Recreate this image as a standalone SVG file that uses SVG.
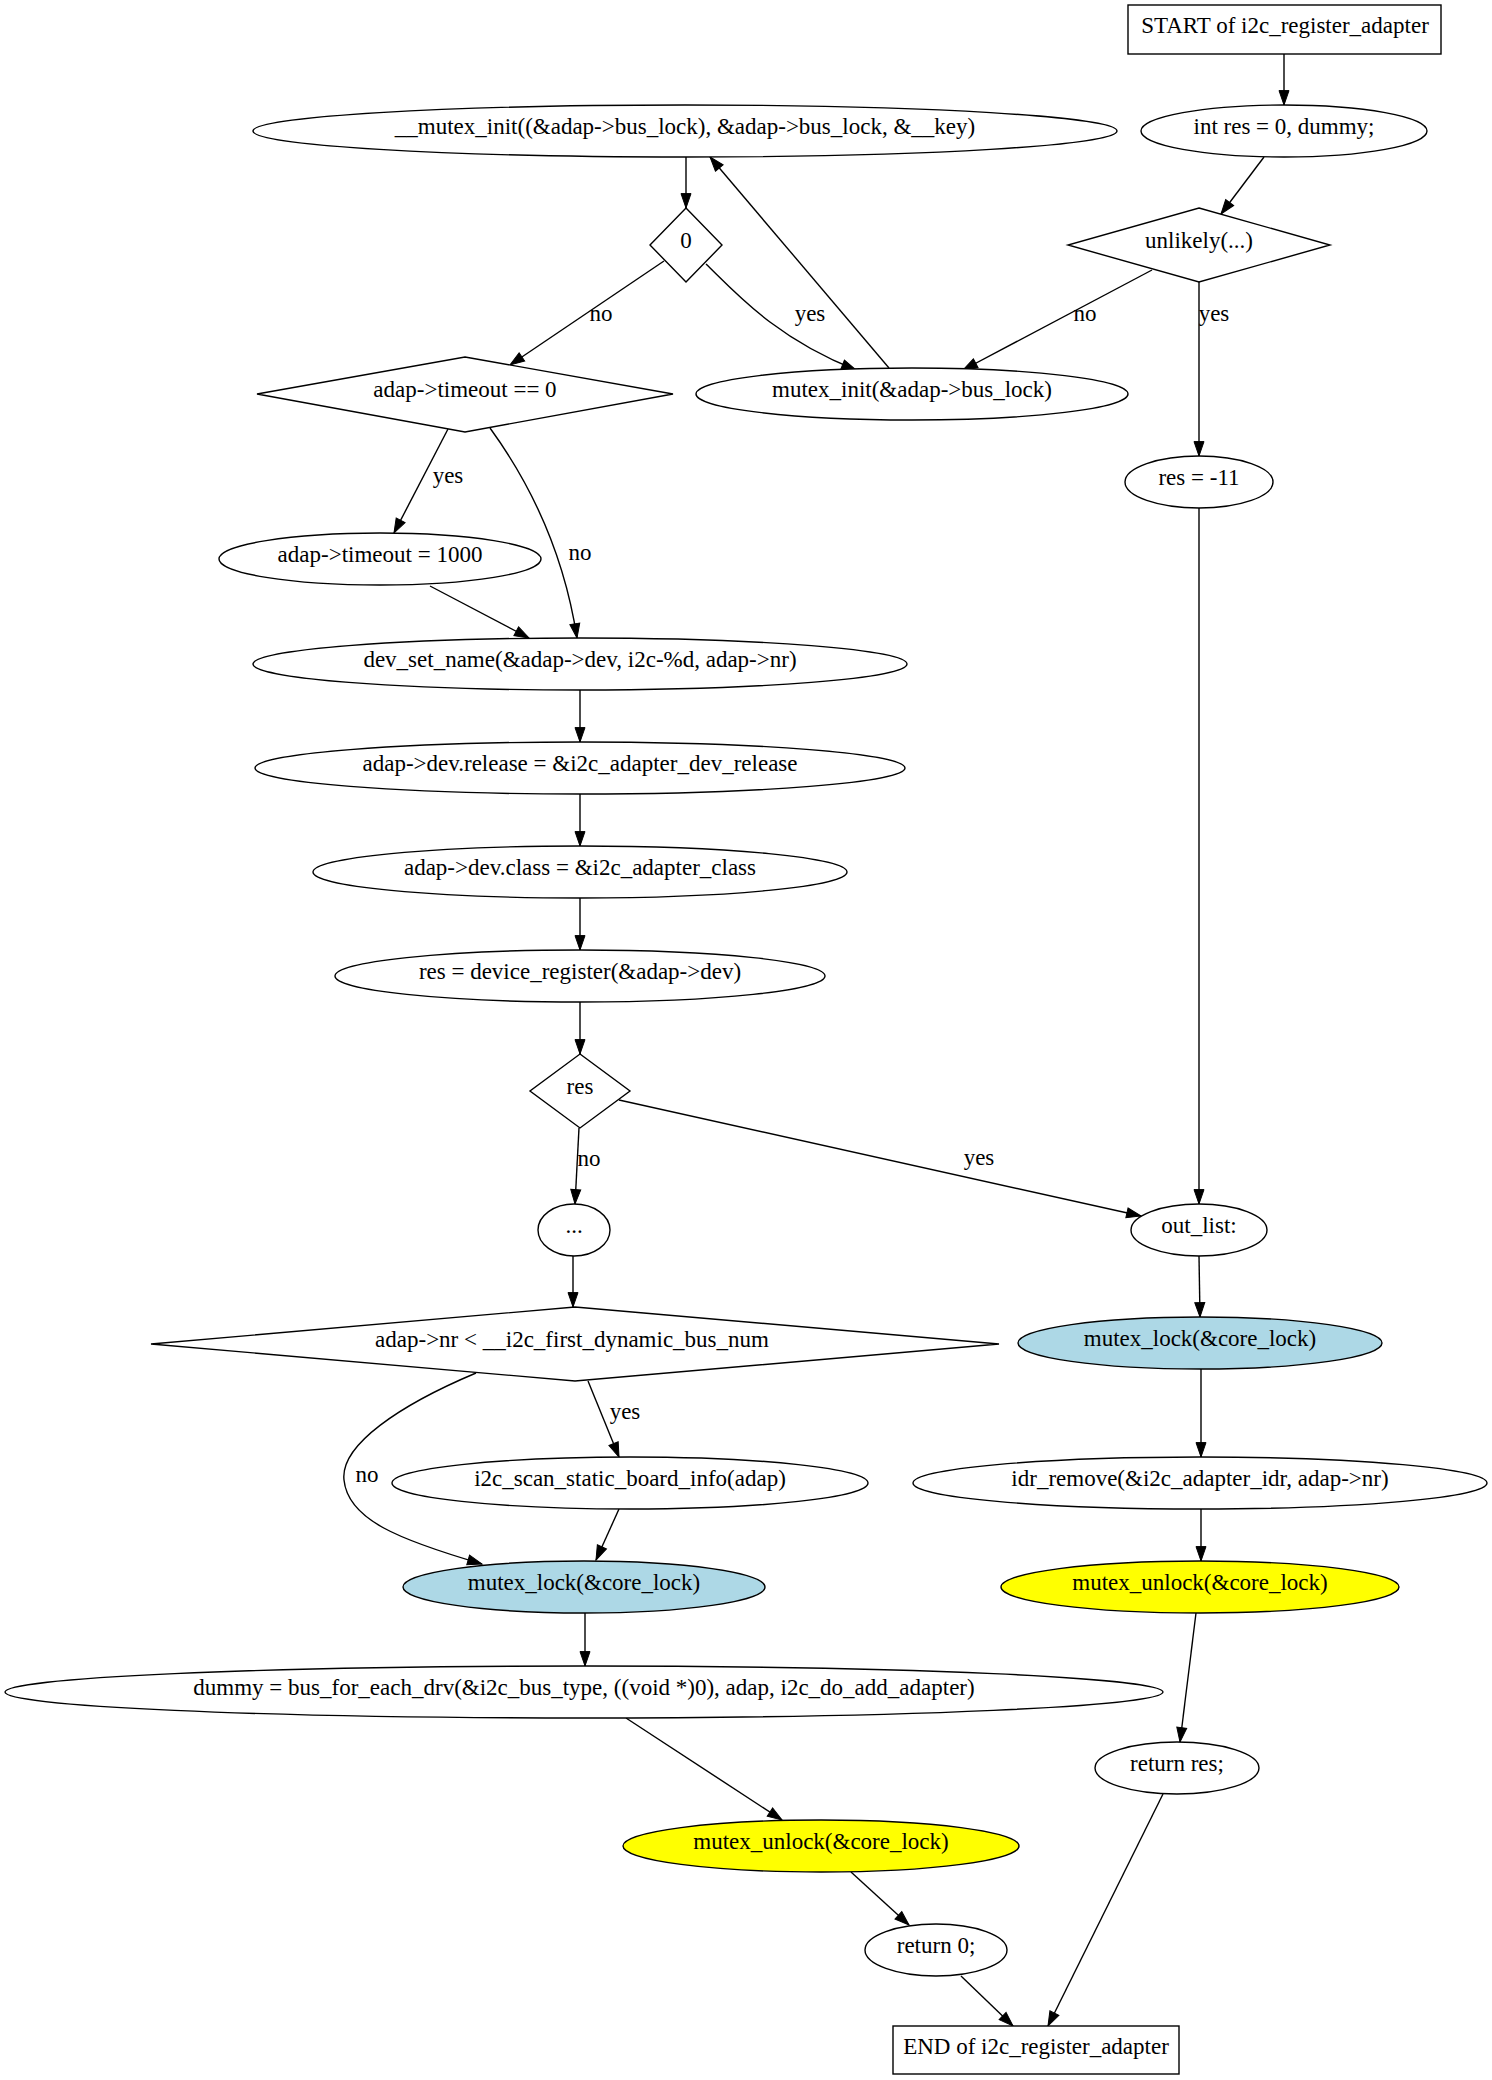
<svg xmlns="http://www.w3.org/2000/svg" width="1492" height="2080" viewBox="0 0 1492 2080">
<defs>
<style>
.s{fill:#fff;stroke:#000;stroke-width:1.4}
.blue{fill:#add8e6;stroke:#000;stroke-width:1.4}
.yel{fill:#ffff00;stroke:#000;stroke-width:1.4}
text{font-family:"Liberation Serif","Times New Roman",serif;font-size:23px;fill:#000;text-anchor:middle}
.e{fill:none;stroke:#000;stroke-width:1.4;marker-end:url(#ah)}
</style>
<marker id="ah" markerWidth="16" markerHeight="12" refX="14.4" refY="5" orient="auto" markerUnits="userSpaceOnUse" overflow="visible">
<path d="M0,0 L14.4,5 L0,10 Z" fill="#000" stroke="#000" stroke-width="1"/>
</marker>
</defs>
<rect x="0" y="0" width="1492" height="2080" fill="#fff"/>

<g id="connectors">
<path class="e" d="M1284,54 L1284,105"/>
<path class="e" d="M1264,157 L1221,214"/>
<path class="e" d="M686,157 L686,208"/>
<path class="e" d="M664,261 L510,365"/>
<text x="601" y="321">no</text>
<path class="e" d="M706,264 C735,292 775,338 856,370"/>
<text x="810" y="321">yes</text>
<path class="e" d="M889,368 L710,157"/>
<path class="e" d="M1152,270 L963,370"/>
<text x="1085" y="321">no</text>
<path class="e" d="M1199,282 L1199,456"/>
<text x="1214" y="321">yes</text>
<path class="e" d="M448,429 L394,533"/>
<text x="448" y="483">yes</text>
<path class="e" d="M490,428 C535,490 565,560 577,638"/>
<text x="580" y="560">no</text>
<path class="e" d="M430,586 L529,638"/>
<path class="e" d="M580,690 L580,742"/>
<path class="e" d="M580,794 L580,846"/>
<path class="e" d="M580,898 L580,950"/>
<path class="e" d="M580,1002 L580,1054"/>
<path class="e" d="M579,1128 L575,1204"/>
<text x="589" y="1166">no</text>
<path class="e" d="M619,1100 L1141,1216"/>
<text x="979" y="1165">yes</text>
<path class="e" d="M1199,508 L1199,1204"/>
<path class="e" d="M573,1256 L573,1307"/>
<path class="e" d="M1199,1256 L1200,1317"/>
<path class="e" d="M588,1381 L619,1457"/>
<text x="625" y="1419">yes</text>
<path class="e" d="M476,1373 C400,1405 340,1445 344,1480 C348,1520 400,1540 482,1564"/>
<text x="367" y="1482">no</text>
<path class="e" d="M619,1509 L596,1560"/>
<path class="e" d="M1201,1369 L1201,1457"/>
<path class="e" d="M1201,1509 L1201,1561"/>
<path class="e" d="M585,1613 L585,1666"/>
<path class="e" d="M1196,1613 L1180,1742"/>
<path class="e" d="M626,1718 L782,1820"/>
<path class="e" d="M1163,1794 L1048,2026"/>
<path class="e" d="M851,1872 L909,1925"/>
<path class="e" d="M961,1976 L1013,2026"/>
</g>

<g id="start"><rect class="s" x="1128" y="5" width="313" height="49"/><text x="1285" y="33">START of i2c_register_adapter</text></g>
<g id="intres"><ellipse class="s" cx="1284" cy="131" rx="143" ry="26"/><text x="1284" y="134">int res = 0, dummy;</text></g>
<g id="mutexinit_key"><ellipse class="s" cx="685" cy="131" rx="432" ry="26"/><text x="685" y="134">__mutex_init((&amp;adap-&gt;bus_lock), &amp;adap-&gt;bus_lock, &amp;__key)</text></g>
<g id="cond0"><polygon class="s" points="686,208 722,245 686,282 650,245"/><text x="686" y="248">0</text></g>
<g id="unlikely"><polygon class="s" points="1199,208 1330,245 1199,282 1068,245"/><text x="1199" y="248">unlikely(...)</text></g>
<g id="timeout0"><polygon class="s" points="465,357 673,394 465,432 257,394"/><text x="465" y="397">adap-&gt;timeout == 0</text></g>
<g id="mutexinit"><ellipse class="s" cx="912" cy="394" rx="216" ry="26"/><text x="912" y="397">mutex_init(&amp;adap-&gt;bus_lock)</text></g>
<g id="res11"><ellipse class="s" cx="1199" cy="482" rx="74" ry="26"/><text x="1199" y="485">res = -11</text></g>
<g id="timeout1000"><ellipse class="s" cx="380" cy="559" rx="161" ry="26"/><text x="380" y="562">adap-&gt;timeout = 1000</text></g>
<g id="devsetname"><ellipse class="s" cx="580" cy="664" rx="327" ry="26"/><text x="580" y="667">dev_set_name(&amp;adap-&gt;dev, i2c-%d, adap-&gt;nr)</text></g>
<g id="release"><ellipse class="s" cx="580" cy="768" rx="325" ry="26"/><text x="580" y="771">adap-&gt;dev.release = &amp;i2c_adapter_dev_release</text></g>
<g id="class"><ellipse class="s" cx="580" cy="872" rx="267" ry="26"/><text x="580" y="875">adap-&gt;dev.class = &amp;i2c_adapter_class</text></g>
<g id="register"><ellipse class="s" cx="580" cy="976" rx="245" ry="26"/><text x="580" y="979">res = device_register(&amp;adap-&gt;dev)</text></g>
<g id="resd"><polygon class="s" points="580,1054 630,1091 580,1128 530,1091"/><text x="580" y="1094">res</text></g>
<g id="dots"><ellipse class="s" cx="574" cy="1230" rx="36" ry="26"/><text x="574" y="1233">...</text></g>
<g id="outlist"><ellipse class="s" cx="1199" cy="1230" rx="68" ry="26"/><text x="1199" y="1233">out_list:</text></g>
<g id="nrcond"><polygon class="s" points="575,1307 999,1344 575,1381 151,1344"/><text x="572" y="1347">adap-&gt;nr &lt; __i2c_first_dynamic_bus_num</text></g>
<g id="lockR"><ellipse class="blue" cx="1200" cy="1343" rx="182" ry="26"/><text x="1200" y="1346">mutex_lock(&amp;core_lock)</text></g>
<g id="scan"><ellipse class="s" cx="630" cy="1483" rx="238" ry="26"/><text x="630" y="1486">i2c_scan_static_board_info(adap)</text></g>
<g id="idr"><ellipse class="s" cx="1200" cy="1483" rx="287" ry="26"/><text x="1200" y="1486">idr_remove(&amp;i2c_adapter_idr, adap-&gt;nr)</text></g>
<g id="lockL"><ellipse class="blue" cx="584" cy="1587" rx="181" ry="26"/><text x="584" y="1590">mutex_lock(&amp;core_lock)</text></g>
<g id="unlockR"><ellipse class="yel" cx="1200" cy="1587" rx="199" ry="26"/><text x="1200" y="1590">mutex_unlock(&amp;core_lock)</text></g>
<g id="dummy"><ellipse class="s" cx="584" cy="1692" rx="579" ry="26"/><text x="584" y="1695">dummy = bus_for_each_drv(&amp;i2c_bus_type, ((void *)0), adap, i2c_do_add_adapter)</text></g>
<g id="returnres"><ellipse class="s" cx="1177" cy="1768" rx="82" ry="26"/><text x="1177" y="1771">return res;</text></g>
<g id="unlockL"><ellipse class="yel" cx="821" cy="1846" rx="198" ry="26"/><text x="821" y="1849">mutex_unlock(&amp;core_lock)</text></g>
<g id="return0"><ellipse class="s" cx="936" cy="1950" rx="71" ry="26"/><text x="936" y="1953">return 0;</text></g>
<g id="end"><rect class="s" x="893" y="2026" width="286" height="48"/><text x="1036" y="2054">END of i2c_register_adapter</text></g>
</svg>
